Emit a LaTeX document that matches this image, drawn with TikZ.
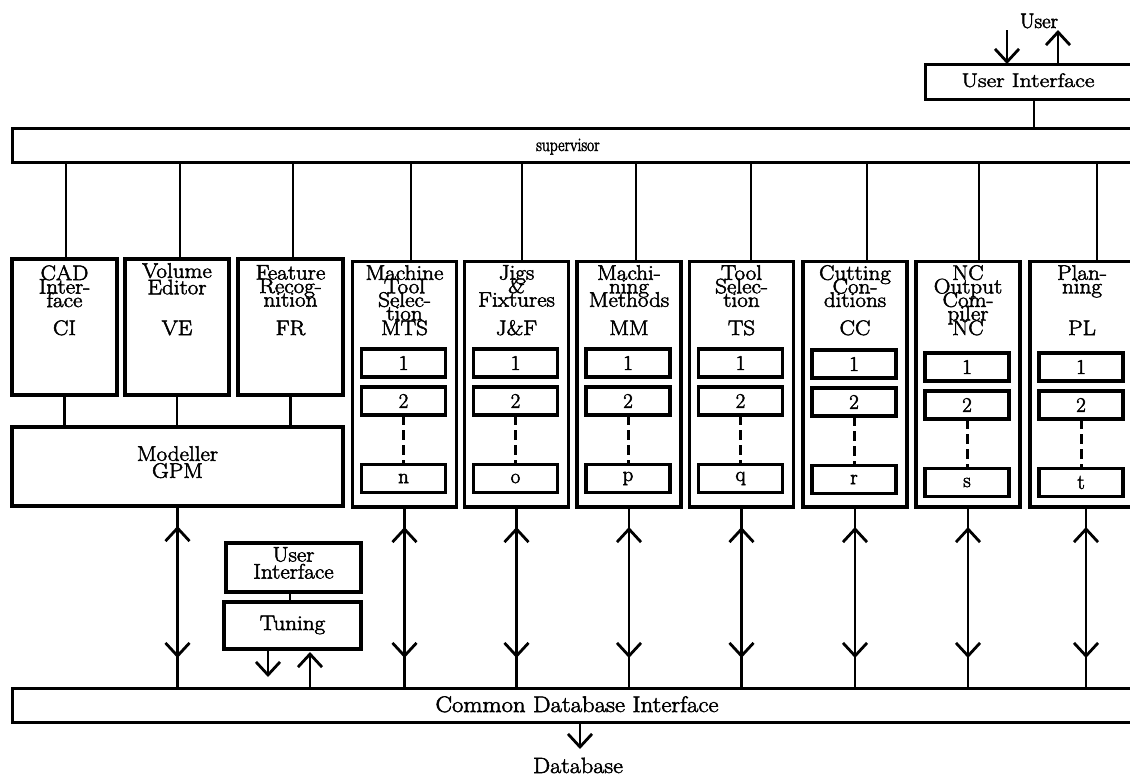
\documentclass[tikz,border=0pt]{standalone}
\usepackage{fontspec}
\setmainfont{Latin Modern Roman}[FakeBold=2.4]
\usetikzlibrary{arrows.meta,decorations.markings}
\newfontfamily\widefont{Latin Modern Roman}[FakeBold=2.4,FakeStretch=1.1]
\newfontfamily\uifont{Latin Modern Roman}[FakeBold=2.4,FakeStretch=1.22]
\newfontfamily\narrowfont{Latin Modern Roman}[FakeBold=2.4,FakeStretch=0.82]
\newcommand\ttlfont{\widefont\fontsize{21}{13.5}\selectfont\lineskiplimit=-100pt\relax}
\newcommand\ttlfontb{\widefont\fontsize{21}{16.5}\selectfont\lineskiplimit=-100pt\relax}
\begin{document}
\begin{tikzpicture}[x=1pt,y=-1pt,
  bx/.style={draw, line width=3.3pt, inner sep=0pt, outer sep=0pt},
  bar/.style={draw, line width=3pt, inner sep=0pt, outer sep=0pt},
  sub/.style={draw, line width=3.2pt, inner sep=0pt, outer sep=0pt, minimum width=84pt, minimum height=28pt, font=\fontsize{21}{21}\selectfont},
  ln/.style={line width=2.8pt},
  dsh/.style={line width=3pt, dash pattern=on 10pt off 5pt},
  ttl/.style={font=\ttlfont, align=center, anchor=north, inner sep=0pt},
  ttlb/.style={font=\ttlfontb, align=center, anchor=north, inner sep=0pt},
  abb/.style={font=\widefont\fontsize{21}{21}\selectfont, anchor=base, inner sep=0pt},
  txt/.style={inner sep=0pt, anchor=base},
  arr/.style={ln, -{Straight Barb[length=13pt,width=24pt]}},
  dbl/.style={ln, postaction={decorate}, decoration={markings,
     mark=at position 20pt with {\arrowreversed{Straight Barb[length=13pt,width=24pt]}},
     mark=at position -30pt with {\arrow{Straight Barb[length=13pt,width=24pt]}}}}]
\useasboundingbox (0,0) rectangle (1130,777);
\clip (0,0) rectangle (1130,777);

% top user interface
\node[bar, minimum width=215pt, minimum height=35pt] (topui) at (1032.5,81.5) {};
\node[txt, font=\uifont\fontsize{19.5}{19.5}\selectfont] (topuit) at (1028,87) {User Interface};
\node[txt, font=\fontsize{21}{21}\selectfont] (user) at (1039,28) {User};
\coordinate (uin) at (1007,30);
\coordinate (uout) at (1058,30);
\draw[arr] (uin) -- (uin |- topui.north);
\draw[arr] (uout |- topui.north) -- (uout);

% supervisor
\node[bar, minimum width=1138pt, minimum height=34pt] (sup) at (581,145) {};
\node[txt, font=\narrowfont\fontsize{19}{19}\selectfont] (supt) at (568,151) {supervisor};
\draw[ln] ([xshift=1.5pt]topui.south) -- ([xshift=1.5pt]topui.south |- sup.north);

% common database interface
\node[bar, minimum width=1138pt, minimum height=34pt] (db) at (581,705) {};
\node[txt, font=\widefont\fontsize{22.5}{22.5}\selectfont] (dbt) at (577,712) {Common Database Interface};
\node[txt, font=\widefont\fontsize{22}{22}\selectfont] (dbase) at (578,773) {Database};
\coordinate (dbtip) at (580,749);
\draw[arr] (dbtip |- db.south) -- (dbtip);

% CAD, Volume editor, Feature recognition
\node[bx, minimum width=105pt, minimum height=136pt] (ci) at (64.5,327) {};
\node[bx, minimum width=104pt, minimum height=136pt] (ve) at (177,327) {};
\node[bx, minimum width=105pt, minimum height=136pt] (fr) at (290.5,327) {};
\node[ttl] (ci-t) at (64.5,265) {CAD\\Inter-\\face};
\node[ttlb] (ve-t) at (177,263) {Volume\\Editor};
\node[ttl] (fr-t) at (290.5,265) {Feature\\Recog-\\nition};
\node[abb] (ci-a) at (64.5,335) {CI};
\node[abb] (ve-a) at (177,335) {VE};
\node[abb] (fr-a) at (290.5,335) {FR};
\draw[ln] ([xshift=1.5pt]ci.north) -- ([xshift=1.5pt]ci.north |- sup.south);
\draw[ln] ([xshift=3pt]ve.north) -- ([xshift=3pt]ve.north |- sup.south);
\draw[ln] ([xshift=2.5pt]fr.north) -- ([xshift=2.5pt]fr.north |- sup.south);

% modeller
\node[bx, minimum width=331pt, minimum height=79pt] (gpm) at (177.5,466.5) {};
\node[ttlb, font=\widefont\fontsize{21}{17}\selectfont] (gpm-t) at (177.5,446) {Modeller\\GPM};
\draw[ln] (ci.south) -- (ci.south |- gpm.north);
\draw[ln] (ve.south) -- (ve.south |- gpm.north);
\draw[ln] (fr.south) -- (fr.south |- gpm.north);
\draw[dbl] (gpm.south) -- (gpm.south |- db.north);

% user interface + tuning
\node[bx, minimum width=135pt, minimum height=49pt] (ui2) at (293.5,567.5) {};
\node[ttlb, font=\widefont\fontsize{21}{17}\selectfont] (ui2-t) at (293.5,547) {User\\Interface};
\node[bx, minimum width=137pt, minimum height=47pt] (tun) at (292.5,625.5) {};
\node[txt, font=\widefont\fontsize{21}{21}\selectfont] (tun-t) at (292.5,630) {Tuning};
\draw[ln] ([xshift=-3.5pt]ui2.south) -- ([xshift=-3.5pt]ui2.south |- tun.north);
\draw[arr, shorten >=11pt] ([xshift=-24.5pt]tun.south) -- ([xshift=-24.5pt]tun.south |- db.north);
\draw[arr, shorten >=3pt] ([xshift=17.5pt]tun.south |- db.north) -- ([xshift=17.5pt]tun.south);

% knowledge modules
\foreach \nm/\cx/\ttx/\ab/\sy/\sd/\bd/\lt in {%
  mts/404.5/{Machine\\Tool\\Selec-\\tion}/MTS/0/6.5/0/n,
  jf/516.5/{Jigs\\\&\\Fixtures}/{J\&F}/0/5.5/0/o,
  mm/629/{Machi-\\ning\\Methods}/MM/0/7/0/p,
  ts/741.5/{Tool\\Selec-\\tion}/TS/0/9.5/0/q,
  cc/855/{Cutting\\Con-\\ditions}/CC/1/12/0/r,
  nc/968/{NC\\Output\\Com-\\piler}/NC/4/11/0/s,
  pl/1082/{Plan-\\ning}/PL/4/15/4/t}{
  \node[bx, minimum width=104pt, minimum height=245.5pt] (\nm) at (\cx,384.25) {};
  \node[ttl] (\nm-t) at (\cx,265) {\ttx};
  \node[abb] (\nm-a) at (\cx,335) {\ab};
  \node[sub] (\nm-1) at ({\cx-1},{363+\sy}) {1};
  \node[sub] (\nm-2) at ({\cx-1},{401+\sy}) {2};
  \node[sub] (\nm-3) at ({\cx-1},{478.5+\sy}) {\lt};
  \draw[dsh] (\nm-2.south) -- (\nm-3.north);
  \draw[ln] ([xshift=\sd pt]\nm.north) -- ([xshift=\sd pt]\nm.north |- sup.south);
  \draw[dbl] ([xshift=\bd pt]\nm.south) -- ([xshift=\bd pt]\nm.south |- db.north);
}
\end{tikzpicture}
\end{document}
